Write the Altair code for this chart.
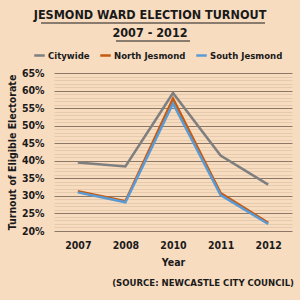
import altair as alt
import pandas as pd

years = ["2007", "2008", "2010", "2011", "2012"]
citywide = [0.395, 0.384, 0.593, 0.415, 0.332]
north = [0.313, 0.285, 0.577, 0.308, 0.223]
south = [0.310, 0.282, 0.563, 0.302, 0.220]
series_names = ["Citywide", "North Jesmond", "South Jesmond"]
series_colors = ["#7F7F7F", "#C55A11", "#5B9BD5"]
title_lines = ["JESMOND WARD ELECTION TURNOUT", "2007 - 2012"]
source_text = "(SOURCE: NEWCASTLE CITY COUNCIL)"

rows = []
for name, vals in zip(series_names, [citywide, north, south]):
    for y, v in zip(years, vals):
        rows.append({"Year": y, "Series": name, "Turnout": v, "order": series_names.index(name)})
df = pd.DataFrame(rows)

FONT = "DejaVu Sans Condensed, Liberation Sans Narrow, sans-serif"
BG = "#F8DCC0"
TXT = "#1a1a1a"

lines = alt.Chart(df).mark_line(strokeWidth=2.5).encode(
    x=alt.X("Year:O", sort=years, scale=alt.Scale(type="point", padding=0.5),
            axis=alt.Axis(title="Year", labelAngle=0, domain=False, ticks=False,
                          labelPadding=9, titlePadding=7, grid=False)),
    y=alt.Y("Turnout:Q", scale=alt.Scale(domain=[0.2, 0.65], nice=False),
            axis=alt.Axis(title="Turnout of Eligible Electorate", format=".0%",
                          values=[round(0.20 + 0.01 * i, 2) for i in range(46)],
                          labelExpr="round(datum.value*100) % 5 == 0 ? datum.label : ''",
                          domain=False, ticks=False, labelPadding=10, titlePadding=4,
                          grid=True,
                          gridColor={"condition": {"test": "round(datum.value*100) % 5 == 0", "value": "#8C7866"}, "value": "#E6CAAE"},
                          gridWidth={"condition": {"test": "round(datum.value*100) % 5 == 0", "value": 1.2}, "value": 1})),
    color=alt.Color("Series:N", sort=series_names,
                    scale=alt.Scale(domain=series_names, range=series_colors),
                    legend=alt.Legend(title=None, orient="none", direction="horizontal",
                                      legendX=-21, legendY=-24, symbolType="stroke",
                                      symbolSize=110, symbolStrokeWidth=2.5,
                                      labelFont=FONT, labelFontSize=9.5, labelFontWeight="bold",
                                      labelColor=TXT, columnPadding=5, labelOffset=2,
                                      gridAlign="none")),
    order=alt.Order("order:Q"),
)

t1 = alt.Chart(pd.DataFrame({"t": [title_lines[0]]})).mark_text(
    font=FONT, fontSize=12.5, fontWeight="bold", color=TXT, align="center", baseline="middle"
).encode(x=alt.value(96), y=alt.value(-58), text="t:N")
t2 = alt.Chart(pd.DataFrame({"t": [title_lines[1]]})).mark_text(
    font=FONT, fontSize=12.5, fontWeight="bold", color=TXT, align="center", baseline="middle"
).encode(x=alt.value(96), y=alt.value(-40), text="t:N")
u1 = alt.Chart(pd.DataFrame({"a": [0]})).mark_rule(color=TXT, strokeWidth=1.2).encode(
    x=alt.value(-13), x2=alt.value(211), y=alt.value(-50))
u2 = alt.Chart(pd.DataFrame({"a": [0]})).mark_rule(color=TXT, strokeWidth=1.2).encode(
    x=alt.value(62), x2=alt.value(136), y=alt.value(-32))
src = alt.Chart(pd.DataFrame({"t": [source_text]})).mark_text(
    font=FONT, fontSize=9.5, fontWeight="bold", color=TXT, align="right", baseline="middle"
).encode(x=alt.value(240), y=alt.value(210), text="t:N")

chart = alt.layer(lines, t1, t2, u1, u2, src).properties(
    width=238, height=158,
    autosize=alt.AutoSizeParams(type="none"),
    padding={"left": 54, "top": 73, "right": 8, "bottom": 69},
    background=BG,
).configure_view(stroke=None).configure_axis(
    labelFont=FONT, labelFontSize=10.5, labelFontWeight="bold", labelColor=TXT,
    titleFont=FONT, titleFontSize=10.5, titleFontWeight="bold", titleColor=TXT,
)

chart.save("out.html", embed_options={"renderer": "svg", "actions": False})
